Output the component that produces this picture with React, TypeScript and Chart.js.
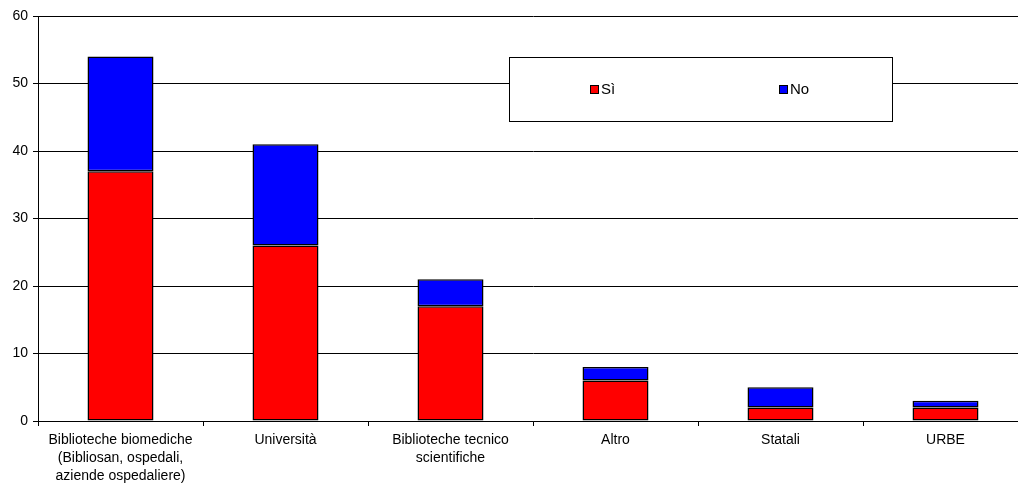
import React, { useEffect, useRef } from "react";
import { Chart, registerables } from "chart.js";

Chart.register(...registerables);

const categories: (string | string[])[] = [
  ["Biblioteche biomediche", "(Bibliosan, ospedali,", "aziende ospedaliere)"],
  "Università",
  ["Biblioteche tecnico", "scientifiche"],
  "Altro",
  "Statali",
  "URBE",
];
const siValues = [37, 26, 17, 6, 2, 2];
const noValues = [17, 15, 4, 2, 3, 1];
const seriesLabels = ["Sì", "No"];
const seriesColors = ["#ff0000", "#0000ff"];

const FONT = "'Liberation Sans', Arial, sans-serif";

const legendBoxPlugin = {
  id: "legendBox",
  afterDraw(chart: any) {
    const { ctx, chartArea } = chart;
    const w = chartArea.right - chartArea.left;
    const h = chartArea.bottom - chartArea.top;
    const x0 = chartArea.left + w * 0.476;
    const x1 = chartArea.left + w * 0.863;
    const y0 = chartArea.top + h * 0.101;
    const y1 = chartArea.top + h * 0.259;
    ctx.save();
    ctx.fillStyle = "#ffffff";
    ctx.fillRect(x0, y0, x1 - x0, y1 - y0);
    ctx.strokeStyle = "#000000";
    ctx.lineWidth = 1;
    ctx.strokeRect(Math.round(x0) + 0.5, Math.round(y0) + 0.5, Math.round(x1 - x0), Math.round(y1 - y0));
    const cy = Math.round((y0 + y1) / 2);
    const positions = [x0 + (x1 - x0) * 0.21, x0 + (x1 - x0) * 0.705];
    ctx.font = "15px " + FONT;
    ctx.textBaseline = "middle";
    seriesLabels.forEach((lab, i) => {
      const sx = Math.round(positions[i]);
      ctx.fillStyle = seriesColors[i];
      ctx.fillRect(sx, cy - 4, 9, 9);
      ctx.strokeStyle = "#000";
      ctx.strokeRect(sx + 0.5, cy - 3.5, 8, 8);
      ctx.fillStyle = "#000";
      ctx.fillText(lab, sx + 11, cy + 1);
    });
    ctx.restore();
  },
};

export default function App() {
  const ref = useRef<HTMLCanvasElement | null>(null);
  useEffect(() => {
    document.body.style.margin = "0";
    document.body.style.overflow = "hidden";
    if (!ref.current) return;
    const chart = new Chart(ref.current, {
      type: "bar",
      data: {
        labels: categories as any,
        datasets: [
          {
            label: seriesLabels[0],
            data: siValues,
            backgroundColor: seriesColors[0],
            borderColor: "#000",
            borderWidth: 1.5,
            borderSkipped: false,
          },
          {
            label: seriesLabels[1],
            data: noValues,
            backgroundColor: seriesColors[1],
            borderColor: "#000",
            borderWidth: 1.5,
            borderSkipped: false,
          },
        ],
      },
      options: {
        animation: false,
        responsive: false,
        devicePixelRatio: 1,
        datasets: { bar: { barPercentage: 0.4, categoryPercentage: 1 } },
        layout: { padding: { top: 16, right: 2, left: 0, bottom: 0 } },
        plugins: {
          legend: { display: false },
          tooltip: { enabled: false },
        },
        scales: {
          x: {
            stacked: true,
            grid: {
              display: true,
              offset: true,
              drawOnChartArea: false,
              tickLength: 5,
              color: "#000",
            },
            border: { color: "#000" },
            ticks: {
              color: "#000",
              font: { family: FONT, size: 14, lineHeight: 1.3 },
              padding: 5,
              maxRotation: 0,
              autoSkip: false,
            },
            afterFit: (s: any) => {
              s.height = 69;
            },
          },
          y: {
            stacked: true,
            min: 0,
            max: 60,
            ticks: {
              stepSize: 10,
              color: "#000",
              font: { family: FONT, size: 14 },
              padding: 5,
            },
            grid: { color: "#000", tickLength: 5 },
            border: { color: "#000" },
            afterFit: (s: any) => {
              s.width = 38;
            },
          },
        },
      },
      plugins: [legendBoxPlugin],
    });
    return () => chart.destroy();
  }, []);
  return (
    <div style={{ width: 1018, height: 490, background: "#fff", overflow: "hidden" }}>
      <canvas ref={ref} width={1030} height={490} style={{ display: "block" }} />
    </div>
  );
}
